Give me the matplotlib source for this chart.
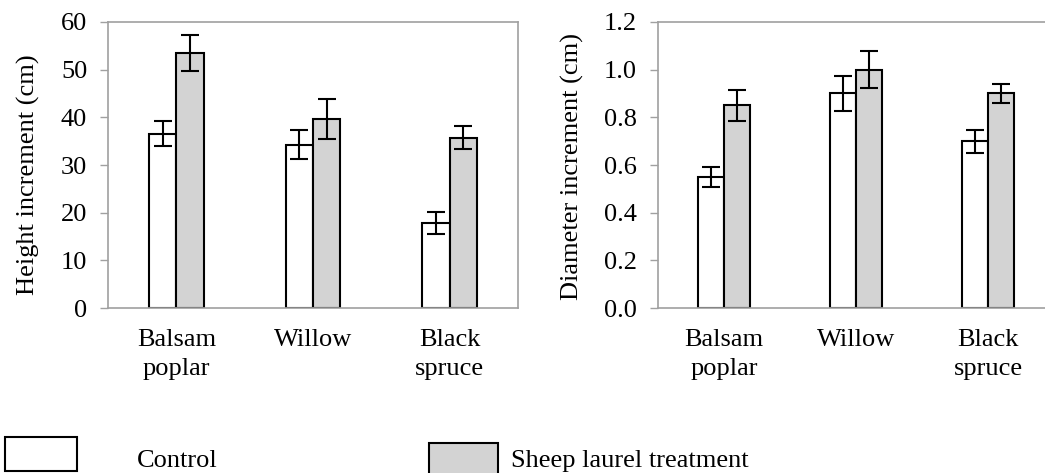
import matplotlib
matplotlib.use("Agg")
import matplotlib.pyplot as plt
from matplotlib.patches import Rectangle
import numpy as np

plt.rcParams['font.family'] = ['Liberation Serif', 'DejaVu Serif']

species = ["Balsam\npoplar", "Willow", "Black\nspruce"]

# height increment (cm)
height_control = [36.6, 34.3, 17.8]
height_control_err = [2.7, 3.0, 2.3]
height_sheep = [53.5, 39.6, 35.7]
height_sheep_err = [3.75, 4.2, 2.4]

# diameter increment (cm)
diam_control = [0.55, 0.90, 0.70]
diam_control_err = [0.043, 0.073, 0.048]
diam_sheep = [0.85, 1.00, 0.90]
diam_sheep_err = [0.065, 0.078, 0.040]

W, H = 1045, 473
fig = plt.figure(figsize=(W / 100, H / 100), dpi=100)

FS = 19
GRAY = "#d3d3d3"
SPINE = "#a0a0a0"


def panel(rect, control, c_err, sheep, s_err, ylim, yticks, fmt, ylabel, label_x, label_y):
    ax = fig.add_axes(rect)
    x = np.arange(len(species))
    w = 0.2
    ax.bar(x - w / 2, control, w, color="white", edgecolor="black", linewidth=1.5, zorder=2)
    ax.bar(x + w / 2, sheep, w, color=GRAY, edgecolor="black", linewidth=1.5, zorder=2)
    ax.errorbar(x - w / 2, control, yerr=c_err, fmt="none", ecolor="black",
                elinewidth=1.5, capsize=6.5, capthick=1.5, zorder=3)
    ax.errorbar(x + w / 2, sheep, yerr=s_err, fmt="none", ecolor="black",
                elinewidth=1.5, capsize=6.5, capthick=1.5, zorder=3)
    ax.set_xlim(-0.5, len(species) - 0.5)
    ax.set_ylim(*ylim)
    ax.set_yticks(yticks)
    ax.set_yticklabels([fmt.format(v) for v in yticks], fontsize=FS)
    ax.set_xticks(x)
    ax.set_xticklabels(species, fontsize=FS, linespacing=1.45)
    ax.tick_params(axis="x", length=0, pad=15)
    ax.tick_params(axis="y", length=6, width=1, color=SPINE, pad=9)
    for s in ax.spines.values():
        s.set_color(SPINE)
        s.set_linewidth(1.2)
    ax.set_ylabel(ylabel, fontsize=FS)
    ax.yaxis.set_label_coords(label_x / W, 1 - label_y / H, transform=fig.transFigure)
    return ax


bottom = 1 - 308 / H
top = 1 - 22 / H
panel([108 / W, bottom, 410 / W, top - bottom], height_control, height_control_err,
      height_sheep, height_sheep_err, (0, 60), [0, 10, 20, 30, 40, 50, 60], "{:.0f}",
      "Height increment (cm)", 40, 175)
panel([658 / W, bottom, 396 / W, top - bottom], diam_control, diam_control_err,
      diam_sheep, diam_sheep_err, (0, 1.2), [0, 0.2, 0.4, 0.6, 0.8, 1.0, 1.2], "{:.1f}",
      "Diameter increment (cm)", 584, 167)

# legend drawn below the panels
fig.patches.append(Rectangle((5 / W, 1 - 471 / H), 72 / W, 34 / H, transform=fig.transFigure,
                             facecolor="white", edgecolor="black", linewidth=1.5))
fig.patches.append(Rectangle((429 / W, 1 - 480 / H), 69 / W, 37 / H, transform=fig.transFigure,
                             facecolor=GRAY, edgecolor="black", linewidth=1.5))
fig.text(137 / W, 1 - 467 / H, "Control", fontsize=FS, va="baseline", ha="left")
fig.text(511 / W, 1 - 467 / H, "Sheep laurel treatment", fontsize=FS, va="baseline", ha="left")

fig.savefig("out.png", dpi=100)
